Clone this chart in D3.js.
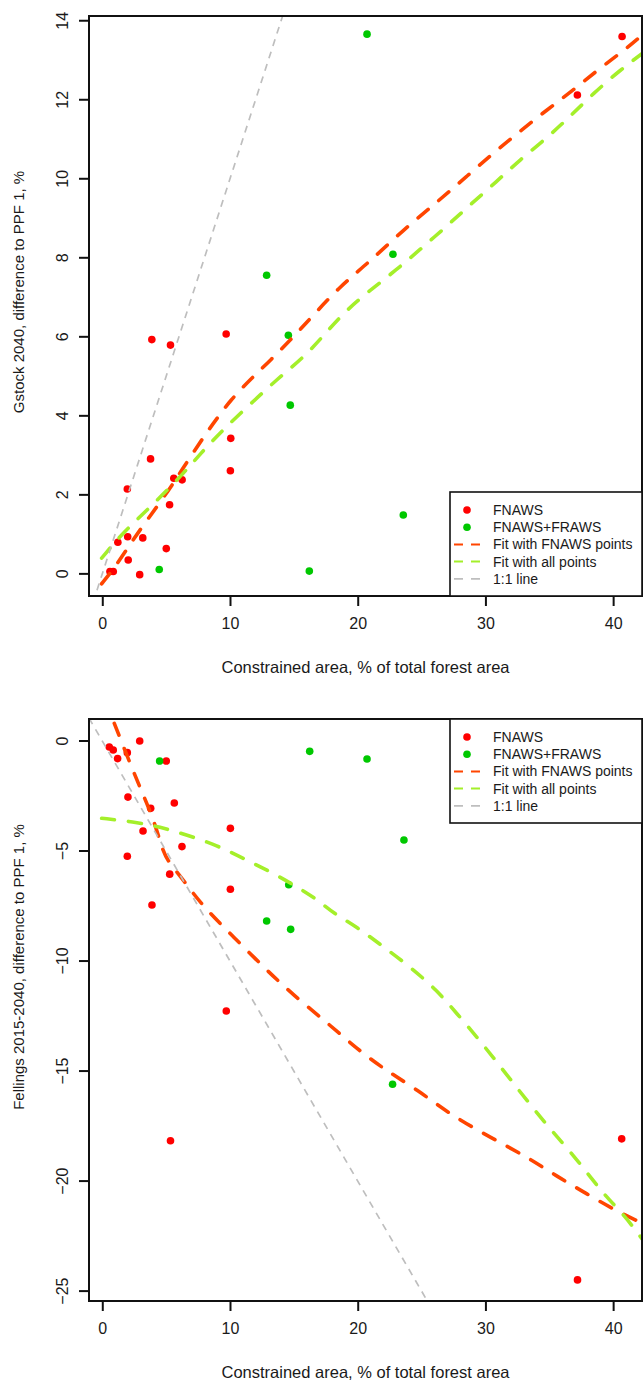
<!DOCTYPE html>
<html><head><meta charset="utf-8">
<script src="https://cdn.jsdelivr.net/npm/d3@7"></script>
<style>body{margin:0;background:#fff}svg{display:block}text{font-family:"Liberation Sans",Arial,sans-serif;fill:#1a1a1a}</style>
</head><body><svg id="c" width="643" height="1382"></svg>
<script>
// ---------- data ----------
const xTicks = [0, 10, 20, 30, 40];
const gstockTicks = [0, 2, 4, 6, 8, 10, 12, 14];
const fellTicks = [0, -5, -10, -15, -20, -25];
const legendLabels = ["FNAWS", "FNAWS+FRAWS", "Fit with FNAWS points", "Fit with all points", "1:1 line"];

// Panel 1: Gstock 2040
const gsRedX = [0.6, 0.86, 1.22, 1.96, 1.99, 2.03, 2.93, 3.17, 3.78, 3.88, 5.01, 5.27, 5.34, 5.6, 6.25, 9.7, 10.03, 10.06, 37.2, 40.7];
const gsRedY = [0.06, 0.06, 0.80, 2.15, 0.94, 0.35, -0.02, 0.91, 2.91, 5.93, 0.64, 1.75, 5.79, 2.42, 2.38, 6.07, 2.61, 3.43, 12.12, 13.60];
const gsGreenX = [4.46, 12.87, 14.57, 14.72, 16.21, 20.73, 22.76, 23.57];
const gsGreenY = [0.11, 7.56, 6.04, 4.27, 0.07, 13.66, 8.09, 1.49];
const gsFitRedX = [-0.05, 0.86, 2.3, 3.0, 5.3, 6.6, 8.18, 9.04, 10.0, 11.57, 13.13, 15.22, 16.0, 18.6, 20.7, 23.57, 26.44, 28.53, 30.62, 32.7, 34.8, 36.9, 38.97, 41.06, 42.28];
const gsFitRedY = [-0.25, 0.11, 0.8, 1.14, 2.15, 2.82, 3.58, 3.96, 4.38, 4.92, 5.39, 6.09, 6.36, 7.28, 7.83, 8.71, 9.47, 10.06, 10.65, 11.2, 11.74, 12.25, 12.8, 13.3, 13.64];
const gsFitAllX = [-0.05, 1.64, 3.6, 6.08, 7.65, 9.48, 11.57, 13.66, 15.74, 17.3, 18.87, 20.7, 23.05, 24.88, 26.97, 28.8, 30.88, 32.7, 34.8, 36.6, 38.45, 40.54, 42.28];
const gsFitAllY = [0.40, 1.05, 1.64, 2.44, 3.03, 3.66, 4.29, 4.92, 5.47, 6.02, 6.6, 7.11, 7.70, 8.21, 8.8, 9.34, 9.93, 10.48, 11.03, 11.57, 12.16, 12.75, 13.17];
const gsOneX = [-1.04, 14.2];
const gsOneY = [-1.04, 14.2];

// Panel 2: Fellings 2015-2040
const feRedX = [0.55, 0.86, 1.2, 1.96, 1.96, 2.01, 2.93, 3.19, 3.79, 3.89, 5.01, 5.28, 5.34, 5.64, 6.24, 9.71, 10.03, 10.03, 37.21, 40.67];
const feRedY = [-0.27, -0.41, -0.80, -0.53, -5.24, -2.55, 0.0, -4.09, -3.06, -7.45, -0.91, -6.05, -18.17, -2.82, -4.80, -12.27, -3.97, -6.74, -24.49, -18.08];
const feGreenX = [4.49, 12.87, 14.6, 14.75, 16.24, 20.73, 22.73, 23.62];
const feGreenY = [-0.91, -8.18, -6.53, -8.56, -0.47, -0.82, -15.6, -4.5];
const feFitRedX = [0.94, 2.43, 3.21, 4.13, 4.78, 5.3, 6.34, 7.9, 10.26, 12.6, 14.96, 17.67, 19.9, 22.15, 24.7, 27.3, 30.5, 33.4, 35.64, 37.88, 40.13, 42.3];
const feFitRedY = [0.8, -1.39, -2.45, -3.74, -5.1, -5.56, -6.32, -7.53, -8.89, -10.26, -11.55, -12.83, -13.97, -14.95, -15.86, -17.0, -18.05, -18.95, -19.8, -20.56, -21.32, -21.92];
const feFitAllX = [-0.05, 2.43, 4.52, 6.6, 8.96, 11.3, 13.4, 15.22, 16.9, 18.09, 19.92, 22.0, 24.1, 26.19, 27.75, 29.54, 32.1, 34.67, 37.24, 39.17, 40.77, 42.3];
const feFitAllY = [-3.51, -3.67, -3.9, -4.27, -4.73, -5.41, -6.01, -6.62, -7.23, -7.83, -8.44, -9.35, -10.26, -11.32, -12.38, -13.59, -15.49, -17.38, -19.05, -20.56, -21.47, -22.65];
const feOneX = [-1.04, 26];
const feOneY = [1.04, -26];

// ---------- drawing ----------
const svg = d3.select("#c");
const C = {red: "#ff0000", green: "#00c800", fitRed: "#ff4500", fitAll: "#a4ef2a", one: "#bebebe"};

function panel(o) {
  const g = svg.append("g");
  const x = d3.scaleLinear().domain(o.xDom).range([89, 642]);
  const y = d3.scaleLinear().domain(o.yDom).range([o.bottom, o.top]);
  const id = "clip" + o.top;
  g.append("clipPath").attr("id", id).append("rect")
    .attr("x", 89).attr("y", o.top).attr("width", 553).attr("height", o.bottom - o.top);
  const plot = g.append("g").attr("clip-path", `url(#${id})`);

  const pts = (xs, ys) => xs.map((v, i) => [v, ys[i]]);
  plot.selectAll(".r").data(pts(o.rx, o.ry)).join("circle")
    .attr("cx", d => x(d[0])).attr("cy", d => y(d[1])).attr("r", 3.8).attr("fill", C.red);
  plot.selectAll(".g").data(pts(o.gx, o.gy)).join("circle")
    .attr("cx", d => x(d[0])).attr("cy", d => y(d[1])).attr("r", 3.8).attr("fill", C.green);

  const line = d3.line().x(d => x(d[0])).y(d => y(d[1])).curve(d3.curveBasis);
  plot.append("path").attr("d", line(pts(o.frx, o.fry))).attr("fill", "none")
    .attr("stroke", C.fitRed).attr("stroke-width", 3.6).attr("stroke-linecap", "round").attr("stroke-dasharray", "13,14");
  plot.append("path").attr("d", line(pts(o.fax, o.fay))).attr("fill", "none")
    .attr("stroke", C.fitAll).attr("stroke-width", 3.6).attr("stroke-linecap", "round").attr("stroke-dasharray", "13,14");
  plot.append("path").attr("d", d3.line().x(d => x(d[0])).y(d => y(d[1]))(pts(o.ox, o.oy))).attr("fill", "none")
    .attr("stroke", C.one).attr("stroke-width", 1.7).attr("stroke-dasharray", "7,6");

  // box
  g.append("rect").attr("x", 89).attr("y", o.top).attr("width", 553).attr("height", o.bottom - o.top)
    .attr("fill", "none").attr("stroke", "#111").attr("stroke-width", 2);

  // x axis
  const xa = g.append("g").attr("transform", `translate(0,${o.bottom})`)
    .call(d3.axisBottom(x).tickValues(xTicks).tickSize(10).tickPadding(12).tickFormat(d3.format("d")));
  xa.select(".domain").remove();
  xa.selectAll("line").attr("stroke", "#111").attr("stroke-width", 2);
  xa.selectAll("text").attr("font-size", 16).attr("fill", "#1a1a1a").attr("font-family", '"Liberation Sans",Arial,sans-serif');

  // y axis
  const ya = g.append("g").attr("transform", "translate(89,0)")
    .call(d3.axisLeft(y).tickValues(o.yTicks).tickSize(10).tickFormat(d3.format("d")));
  ya.select(".domain").remove();
  ya.selectAll("line").attr("stroke", "#111").attr("stroke-width", 2);
  ya.selectAll("text").attr("font-size", 16).attr("fill", "#1a1a1a").attr("font-family", '"Liberation Sans",Arial,sans-serif')
    .attr("x", 0).attr("dy", null).attr("text-anchor", "middle")
    .attr("transform", d => `translate(-27,${y(d)}) rotate(-90)`).attr("y", 0).attr("dominant-baseline", "central");
  ya.selectAll(".tick").attr("transform", null);
  ya.selectAll(".tick line").attr("transform", d => `translate(0,${y(d)})`);

  g.append("text").attr("x", 365.5).attr("y", o.bottom + 77).attr("text-anchor", "middle")
    .attr("font-size", 16.5).text("Constrained area, % of total forest area");
  g.append("text").attr("transform", `translate(24,${o.ylabY}) rotate(-90)`).attr("text-anchor", "middle")
    .attr("font-size", 15).text(o.ylab);

  // legend
  const L = o.leg;
  g.append("rect").attr("x", 450).attr("y", L.y0).attr("width", 192).attr("height", L.h)
    .attr("fill", "#fff").attr("stroke", "#111").attr("stroke-width", 1.6);
  const lg = g.append("g");
  legendLabels.forEach((t, i) => {
    const yy = L.y0 + 18 + i * 17.2;
    if (i < 2) {
      lg.append("circle").attr("cx", 467).attr("cy", yy).attr("r", 3.8).attr("fill", i === 0 ? C.red : C.green);
    } else {
      const col = [C.fitRed, C.fitAll, C.one][i - 2];
      lg.append("line").attr("x1", 454).attr("x2", 480).attr("y1", yy).attr("y2", yy)
        .attr("stroke", col).attr("stroke-width", i === 4 ? 1.7 : 2).attr("stroke-dasharray", "9,8");
    }
    lg.append("text").attr("x", 493).attr("y", yy).attr("dominant-baseline", "central")
      .attr("font-size", 14).text(t);
  });
}

panel({top: 16, bottom: 596, xDom: [-1.04, 42.26], yDom: [-0.56, 14.12], yTicks: gstockTicks,
  rx: gsRedX, ry: gsRedY, gx: gsGreenX, gy: gsGreenY,
  frx: gsFitRedX, fry: gsFitRedY, fax: gsFitAllX, fay: gsFitAllY, ox: gsOneX, oy: gsOneY,
  ylab: "Gstock 2040, difference to PPF 1, %", ylabY: 292, leg: {y0: 492, h: 104}});

panel({top: 719, bottom: 1301, xDom: [-1.04, 42.26], yDom: [-25.45, 1.0], yTicks: fellTicks,
  rx: feRedX, ry: feRedY, gx: feGreenX, gy: feGreenY,
  frx: feFitRedX, fry: feFitRedY, fax: feFitAllX, fay: feFitAllY, ox: feOneX, oy: feOneY,
  ylab: "Fellings 2015-2040, difference to PPF 1, %", ylabY: 967, leg: {y0: 719, h: 104}});
</script></body></html>
